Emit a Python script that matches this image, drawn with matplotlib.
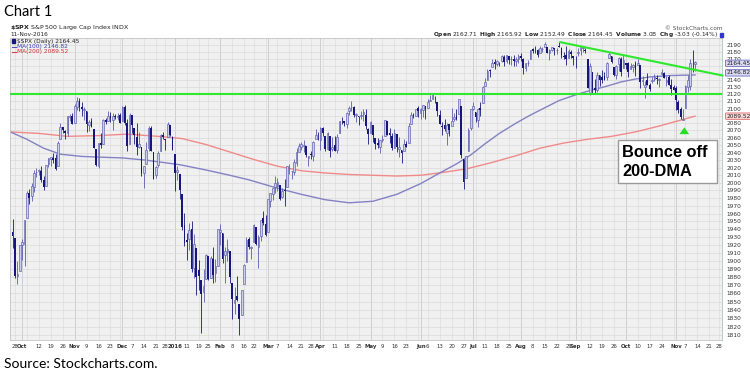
import matplotlib.pyplot as plt
import matplotlib.transforms as mtransforms
import numpy as np
import pandas as pd
from matplotlib.patches import Rectangle
from matplotlib.ticker import NullLocator

# $SPX daily candles, 25-Sep-2015 .. 11-Nov-2016 (one line per month)
opens = [
    1935.93, 1929.18, 1881.90, 1887.14,
    1919.65, 1921.77, 1954.33, 1986.63, 1982.34, 1994.01, 2013.73, 2015.65, 2015.00, 2003.66, 1996.47, 2024.37, 2031.73, 2033.13, 2033.47, 2021.88, 2058.19, 2075.08, 2068.75, 2066.48, 2088.35, 2090.00,
    2080.76, 2102.63, 2110.60, 2101.68, 2098.60, 2096.56, 2077.19, 2083.41, 2072.29, 2044.64, 2022.08, 2053.67, 2051.99, 2083.70, 2082.82, 2089.41, 2084.42, 2089.30, 2088.82, 2090.95,
    2082.93, 2101.71, 2080.71, 2051.24, 2090.42, 2073.39, 2061.17, 2047.93, 2047.27, 2013.37, 2025.55, 2046.50, 2073.76, 2040.81, 2010.27, 2023.15, 2042.20, 2063.52, 2057.77, 2060.54, 2077.34, 2060.59,
    2038.20, 2013.78, 2011.71, 1985.32, 1945.97, 1926.12, 1927.83, 1940.34, 1891.68, 1916.68, 1888.66, 1876.18, 1861.46, 1877.40, 1906.28, 1878.79, 1902.52, 1885.22, 1894.00,
    1936.94, 1935.26, 1907.07, 1911.67, 1913.07, 1873.25, 1848.46, 1857.10, 1847.00, 1833.40, 1871.44, 1898.80, 1927.57, 1916.74, 1924.44, 1942.38, 1917.56, 1931.87, 1954.95, 1947.13,
    1937.09, 1976.60, 1985.60, 1994.01, 1996.11, 1996.88, 1981.44, 1990.97, 1994.71, 2019.27, 2015.27, 2014.24, 2026.90, 2041.16, 2047.88, 2048.64, 2048.55, 2032.48, 2037.89, 2035.75, 2058.27, 2060.10,
    2056.62, 2073.19, 2062.50, 2045.56, 2063.01, 2045.54, 2050.23, 2043.72, 2065.92, 2082.89, 2083.10, 2078.83, 2096.05, 2101.52, 2102.09, 2091.49, 2089.37, 2089.84, 2092.57, 2090.93, 2071.82,
    2067.17, 2077.18, 2060.30, 2052.95, 2047.77, 2057.55, 2062.63, 2083.29, 2067.17, 2062.50, 2046.53, 2065.04, 2044.38, 2044.21, 2041.88, 2052.23, 2052.65, 2078.93, 2091.44, 2090.06, 2100.13,
    2093.94, 2097.71, 2104.07, 2100.83, 2110.18, 2112.71, 2115.65, 2109.57, 2091.75, 2076.65, 2077.60, 2066.36, 2078.20, 2075.58, 2085.19, 2089.75, 2092.80, 2103.81, 2031.45, 2006.67, 2042.69, 2073.17,
    2099.34, 2095.05, 2084.43, 2100.42, 2106.97, 2131.72, 2139.50, 2153.81, 2157.88, 2165.13, 2162.04, 2163.79, 2166.10, 2172.91, 2166.47, 2173.71, 2168.97, 2169.81, 2166.05, 2168.83,
    2173.15, 2169.94, 2156.81, 2163.51, 2168.79, 2183.76, 2182.24, 2182.81, 2177.97, 2183.74, 2186.08, 2186.24, 2177.84, 2181.90, 2184.24, 2181.58, 2187.81, 2185.09, 2173.29, 2175.10, 2170.19, 2179.45, 2173.56,
    2171.33, 2177.49, 2181.61, 2185.17, 2182.76, 2169.08, 2120.86, 2150.47, 2127.86, 2125.36, 2146.48, 2143.99, 2145.94, 2144.58, 2170.94, 2173.29, 2158.54, 2146.04, 2161.85, 2168.90, 2156.51,
    2164.33, 2163.37, 2155.15, 2158.22, 2164.19, 2160.39, 2161.35, 2137.67, 2130.26, 2139.68, 2132.95, 2138.31, 2140.81, 2142.51, 2139.43, 2148.50, 2149.72, 2136.97, 2144.06, 2132.23, 2129.78,
    2128.68, 2109.43, 2098.80, 2083.79, 2100.59, 2129.92, 2131.56, 2167.49, 2162.71,
]
highs = [
    1952.89, 1929.18, 1899.48, 1920.53,
    1927.21, 1951.36, 1989.17, 1991.62, 1999.31, 2016.50, 2020.13, 2018.66, 2022.34, 2009.56, 2024.15, 2033.54, 2034.45, 2039.12, 2037.97, 2055.20, 2079.74, 2075.14, 2070.37, 2090.35, 2092.52, 2094.32,
    2106.20, 2116.48, 2114.59, 2108.78, 2101.91, 2096.56, 2083.67, 2086.94, 2072.29, 2044.64, 2053.22, 2066.69, 2085.31, 2086.74, 2097.06, 2095.61, 2094.12, 2093.00, 2093.29, 2093.81,
    2103.37, 2104.27, 2085.00, 2093.84, 2090.42, 2073.85, 2080.33, 2067.65, 2047.27, 2022.92, 2053.87, 2076.72, 2076.37, 2040.81, 2022.90, 2042.74, 2064.73, 2067.36, 2057.77, 2081.56, 2077.34, 2062.54,
    2038.20, 2021.94, 2011.71, 1985.32, 1960.40, 1935.65, 1947.38, 1950.33, 1934.47, 1916.68, 1901.44, 1876.18, 1889.85, 1908.85, 1906.28, 1906.73, 1916.99, 1902.96, 1940.24,
    1947.20, 1935.26, 1918.01, 1927.35, 1913.07, 1873.25, 1868.25, 1881.60, 1847.00, 1864.78, 1895.77, 1930.68, 1930.00, 1918.78, 1946.70, 1942.38, 1932.08, 1951.83, 1962.96, 1958.27,
    1978.35, 1986.51, 1993.69, 2009.13, 2006.12, 1996.88, 1992.69, 2005.08, 2022.37, 2024.57, 2015.94, 2032.02, 2046.24, 2052.36, 2053.91, 2056.60, 2048.55, 2036.04, 2042.67, 2055.91, 2072.21, 2067.81,
    2075.07, 2074.02, 2062.50, 2067.33, 2063.01, 2060.63, 2062.93, 2065.05, 2083.18, 2087.84, 2083.22, 2094.66, 2104.05, 2111.05, 2103.78, 2094.32, 2089.37, 2096.87, 2099.89, 2099.30, 2073.85,
    2083.42, 2077.18, 2060.30, 2060.23, 2057.72, 2064.15, 2084.87, 2083.29, 2073.99, 2066.79, 2071.88, 2065.69, 2060.61, 2044.21, 2058.35, 2055.91, 2079.67, 2094.73, 2094.30, 2099.06, 2103.48,
    2100.97, 2105.26, 2104.07, 2113.36, 2119.22, 2120.55, 2117.64, 2109.57, 2098.12, 2081.30, 2085.65, 2079.62, 2078.20, 2100.66, 2093.66, 2099.71, 2113.32, 2103.81, 2031.45, 2036.09, 2073.13, 2098.94,
    2108.71, 2095.05, 2100.72, 2109.08, 2131.71, 2143.16, 2155.40, 2155.79, 2168.99, 2169.05, 2168.35, 2164.63, 2175.63, 2174.56, 2175.11, 2173.71, 2173.54, 2174.98, 2172.85, 2177.09,
    2178.29, 2170.20, 2163.79, 2168.19, 2182.87, 2185.44, 2187.66, 2183.41, 2188.45, 2186.28, 2193.81, 2186.24, 2183.08, 2187.03, 2185.00, 2185.15, 2193.42, 2186.66, 2179.00, 2187.94, 2183.48, 2182.27, 2173.79,
    2173.56, 2184.87, 2186.57, 2187.87, 2184.94, 2169.08, 2163.30, 2150.47, 2141.33, 2151.31, 2146.48, 2153.61, 2150.80, 2165.11, 2179.99, 2173.75, 2158.54, 2161.13, 2172.40, 2172.67, 2175.30,
    2164.41, 2165.46, 2163.95, 2162.93, 2165.86, 2169.60, 2161.56, 2145.36, 2138.19, 2149.19, 2135.61, 2144.38, 2148.44, 2147.18, 2142.63, 2154.79, 2151.44, 2145.73, 2147.13, 2140.72, 2133.25,
    2131.45, 2111.76, 2102.56, 2099.07, 2132.00, 2146.87, 2170.10, 2182.30, 2165.92,
]
lows = [
    1916.83, 1879.21, 1871.91, 1887.14,
    1900.70, 1893.70, 1954.33, 1971.99, 1976.44, 1987.53, 2007.61, 2010.55, 2001.78, 1990.73, 1996.47, 2020.46, 2022.31, 2026.61, 2017.22, 2021.88, 2058.19, 2066.53, 2058.84, 2063.11, 2082.63, 2079.34,
    2080.76, 2097.51, 2096.98, 2090.41, 2083.74, 2068.24, 2069.91, 2074.85, 2045.66, 2022.02, 2019.94, 2045.90, 2051.99, 2078.76, 2082.82, 2081.39, 2070.29, 2086.30, 2084.13, 2080.41,
    2082.93, 2077.11, 2042.35, 2051.24, 2066.78, 2052.32, 2036.53, 2045.67, 2008.80, 1993.26, 2025.55, 2042.43, 2041.66, 2005.33, 2005.93, 2020.49, 2042.20, 2058.73, 2044.20, 2060.54, 2061.97, 2043.62,
    1989.68, 2004.17, 1979.05, 1938.83, 1918.46, 1901.10, 1914.35, 1886.41, 1878.93, 1857.83, 1864.60, 1812.29, 1848.98, 1877.40, 1875.97, 1878.79, 1872.70, 1873.65, 1894.00,
    1920.30, 1897.29, 1872.23, 1900.52, 1872.65, 1828.46, 1834.94, 1850.32, 1810.10, 1833.40, 1871.44, 1898.80, 1915.09, 1902.17, 1924.44, 1919.44, 1891.00, 1925.41, 1945.78, 1931.81,
    1937.09, 1968.80, 1977.37, 1986.77, 1989.38, 1977.43, 1979.84, 1969.25, 1994.71, 2012.05, 2005.23, 2010.04, 2022.16, 2041.16, 2043.14, 2040.57, 2034.86, 2022.49, 2031.96, 2028.31, 2058.27, 2056.95,
    2043.98, 2062.57, 2042.56, 2043.09, 2033.80, 2041.69, 2041.88, 2039.74, 2065.92, 2078.13, 2076.31, 2073.65, 2091.68, 2096.32, 2088.52, 2081.20, 2077.52, 2085.80, 2082.31, 2071.62, 2052.28,
    2066.11, 2054.89, 2045.55, 2045.77, 2039.45, 2054.31, 2062.63, 2064.46, 2053.13, 2043.13, 2046.53, 2040.82, 2034.49, 2025.91, 2041.88, 2047.68, 2052.65, 2078.93, 2087.08, 2090.06, 2088.66,
    2085.10, 2088.59, 2085.36, 2100.83, 2110.18, 2112.71, 2107.73, 2089.96, 2078.46, 2064.10, 2069.80, 2050.37, 2062.84, 2075.58, 2083.02, 2084.36, 2092.80, 2032.57, 1991.68, 2006.67, 2042.69, 2070.00,
    2097.90, 2080.86, 2074.02, 2089.39, 2106.97, 2131.72, 2139.50, 2143.71, 2157.88, 2155.79, 2159.63, 2159.01, 2164.89, 2159.75, 2163.24, 2161.95, 2160.18, 2159.07, 2159.74, 2163.49,
    2166.21, 2147.58, 2152.02, 2159.07, 2168.79, 2177.85, 2178.61, 2172.00, 2177.97, 2179.42, 2186.08, 2178.14, 2168.50, 2180.46, 2175.13, 2175.96, 2186.80, 2171.25, 2169.74, 2160.39, 2170.19, 2170.41, 2161.35,
    2157.09, 2173.59, 2175.10, 2179.07, 2177.49, 2127.81, 2119.12, 2120.27, 2119.90, 2122.36, 2131.20, 2135.91, 2139.17, 2139.57, 2170.94, 2163.97, 2145.04, 2141.55, 2151.79, 2145.20, 2156.51,
    2154.77, 2144.01, 2155.15, 2150.28, 2144.85, 2160.39, 2128.84, 2132.77, 2114.72, 2132.98, 2124.43, 2135.49, 2138.15, 2133.44, 2130.09, 2146.91, 2141.93, 2131.59, 2132.52, 2119.36, 2125.53,
    2097.85, 2094.00, 2085.23, 2083.79, 2100.59, 2123.56, 2125.35, 2151.17, 2152.49,
]
closes = [
    1931.34, 1881.77, 1884.09, 1920.03,
    1923.82, 1951.36, 1987.05, 1979.92, 1995.83, 2013.43, 2014.89, 2017.46, 2003.69, 1994.24, 2023.86, 2033.11, 2033.66, 2030.77, 2018.94, 2052.51, 2075.15, 2071.18, 2065.89, 2090.35, 2089.41, 2079.36,
    2104.05, 2109.79, 2102.31, 2099.93, 2099.20, 2078.58, 2081.72, 2075.00, 2045.97, 2023.04, 2053.19, 2050.44, 2083.58, 2081.24, 2089.17, 2086.59, 2089.14, 2088.87, 2090.11, 2080.41,
    2102.63, 2079.51, 2049.62, 2091.69, 2077.07, 2063.59, 2047.62, 2052.23, 2012.37, 2021.94, 2043.41, 2073.07, 2041.89, 2005.55, 2021.15, 2038.97, 2064.29, 2060.99, 2056.50, 2078.36, 2063.36, 2043.94,
    2012.66, 2016.71, 1990.26, 1943.09, 1922.03, 1923.67, 1938.68, 1890.28, 1921.84, 1880.33, 1881.33, 1859.33, 1868.99, 1906.90, 1877.08, 1903.63, 1882.95, 1893.36, 1940.24,
    1939.38, 1903.03, 1912.53, 1915.45, 1880.05, 1853.44, 1852.21, 1851.86, 1829.08, 1864.78, 1895.58, 1926.82, 1917.83, 1917.78, 1945.50, 1921.27, 1929.80, 1951.70, 1948.05, 1932.23,
    1978.35, 1986.45, 1993.40, 1999.99, 2001.76, 1979.26, 1989.26, 1989.57, 2022.19, 2019.64, 2015.93, 2027.22, 2040.59, 2049.58, 2051.60, 2049.80, 2036.71, 2035.94, 2037.05, 2055.01, 2063.95, 2059.74,
    2072.78, 2066.13, 2045.17, 2066.66, 2041.91, 2047.60, 2041.99, 2061.72, 2082.42, 2082.78, 2080.73, 2094.34, 2100.80, 2102.40, 2091.48, 2091.58, 2087.79, 2091.70, 2095.15, 2075.81, 2065.30,
    2081.43, 2063.37, 2051.12, 2050.63, 2057.14, 2058.69, 2084.39, 2064.46, 2064.11, 2046.61, 2066.66, 2047.21, 2047.63, 2040.04, 2052.32, 2048.04, 2076.06, 2090.54, 2090.10, 2099.06, 2096.95,
    2099.33, 2105.26, 2099.13, 2109.41, 2112.13, 2119.12, 2115.48, 2096.07, 2079.06, 2075.32, 2071.50, 2077.99, 2071.22, 2083.25, 2088.90, 2085.45, 2113.32, 2037.41, 2000.54, 2036.09, 2070.77, 2098.86,
    2102.95, 2088.55, 2099.73, 2097.90, 2129.90, 2137.16, 2152.14, 2152.43, 2163.75, 2161.74, 2166.89, 2163.78, 2173.02, 2165.17, 2175.03, 2168.48, 2169.18, 2166.58, 2170.06, 2173.60,
    2170.84, 2157.03, 2163.79, 2164.25, 2182.87, 2180.89, 2181.74, 2175.49, 2185.79, 2184.05, 2190.15, 2178.15, 2182.22, 2187.02, 2183.87, 2182.64, 2186.90, 2175.44, 2172.47, 2169.04, 2180.38, 2176.12, 2170.95,
    2170.86, 2179.98, 2186.48, 2186.16, 2181.30, 2127.81, 2159.04, 2127.02, 2125.77, 2147.26, 2139.16, 2139.12, 2139.76, 2163.12, 2177.18, 2164.69, 2146.10, 2159.93, 2171.37, 2151.13, 2168.27,
    2161.20, 2150.49, 2159.73, 2160.77, 2153.74, 2163.66, 2136.73, 2139.18, 2132.55, 2132.98, 2126.50, 2139.60, 2144.29, 2141.34, 2141.16, 2151.33, 2143.16, 2139.43, 2133.04, 2126.41, 2126.15,
    2111.72, 2097.94, 2088.66, 2085.18, 2131.52, 2139.56, 2163.26, 2167.48, 2164.45,
]
holidays = ['2015-11-26', '2015-12-25', '2016-01-01', '2016-01-18', '2016-02-15',
            '2016-03-25', '2016-05-30', '2016-07-04', '2016-09-05', '2016-11-24']

# moving averages (trading-day index, value)
ma100_pos = [-1, 6, 13, 20, 29, 37, 46, 56, 70, 81, 91, 99, 111, 121, 131, 141, 151, 161,
             171, 179, 186, 192, 198, 204, 211, 217, 223, 229, 236, 242, 249, 255, 261, 267, 276, 286]
ma100_val = [2068, 2058, 2046, 2038, 2035, 2034, 2033, 2030, 2024, 2017, 2010, 2004, 1993, 1985,
             1978, 1974, 1976, 1985, 1999, 2013, 2025, 2037, 2052, 2066, 2080, 2091, 2101, 2111,
             2119, 2125, 2131, 2137, 2141, 2144, 2146, 2146.82]
ma200_pos = [-1, 11, 23, 36, 48, 61, 71, 81, 91, 101, 111, 121, 131, 141, 151, 161, 171, 181,
             191, 201, 211, 221, 231, 241, 251, 261, 271, 281, 286]
ma200_val = [2068, 2066, 2062, 2063, 2065, 2062, 2059, 2051, 2041, 2031, 2022, 2016, 2013, 2011,
             2010, 2009, 2010, 2014, 2019, 2027, 2036, 2046, 2053, 2058, 2062, 2068, 2076, 2085, 2089.52]

# drawn support / resistance lines
support_level = 2120
trend_pos = [229.5, 297.5]
trend_val = [2193.5, 2146.0]
# last values shown on the price scale: value, fill, edge, nudge (pt)
last_values = [(2164.45, '#d9d9f2', '#6b6bc0', -0.6), (2146.82, '#d9d9f2', '#6b6bc0', 1.5),
               (2089.52, '#fadada', '#e06a6a', 0)]
hidden_labels = [2090, 2150, 2160]

W, H = 750, 376
fig = plt.figure(figsize=(W / 100, H / 100), dpi=100)
fig.patch.set_facecolor('white')
ax = fig.add_axes([10 / W, 36 / H, 712 / W, 302 / H])
ax.set_facecolor('#f0f0f0')

days = pd.bdate_range('2015-09-25', '2016-11-28')
days = days[~days.isin(pd.to_datetime(holidays))]
n = len(closes)

ax.set_yscale('log')
ax.set_ylim(1804, 2199.5)
ax.set_xlim(-1.1, 297.3)

yt = np.arange(1810, 2191, 10)
ax.yaxis.set_minor_locator(NullLocator())
ax.set_yticks(yt)
ax.set_yticklabels(['' if v in hidden_labels else str(v) for v in yt])
ax.yaxis.tick_right()
ax.tick_params(axis='y', length=0, labelsize=4.2, pad=3, labelcolor='#333333')
ax.grid(axis='y', color='#dadada', lw=0.5)

# x labels: month names at month starts, day numbers at week starts
ticks, labels, bold = [], [], []
month_starts = [i for i in range(1, len(days)) if days[i].month != days[i - 1].month]
for i in range(1, len(days)):
    d = days[i]
    if i in month_starts:
        ticks.append(i); labels.append('2016' if d.month == 1 else d.strftime('%b')); bold.append(True)
        ax.axvline(i, color='#c9c9c9', lw=0.6, zorder=1)
    elif d.weekday() < days[i - 1].weekday():
        ax.axvline(i, color='#dcdcdc', lw=0.5, zorder=1)
        if min(abs(i - m) for m in month_starts) > 2:
            ticks.append(i); labels.append(str(d.day)); bold.append(False)
ax.set_xticks(ticks)
ax.set_xticklabels(labels)
nudge = mtransforms.ScaledTranslation(2 / 100, 0, fig.dpi_scale_trans)
for t, b in zip(ax.get_xticklabels(), bold):
    if b:
        t.set_fontweight('bold')
        t.set_transform(t.get_transform() + nudge)
ax.tick_params(axis='x', length=0, labelsize=3.9, pad=3, labelcolor='#333333')
for s in ax.spines.values():
    s.set_color('#c4c4c4'); s.set_linewidth(0.6)
ax.spines['right'].set_color('#a9c6bf')

# moving averages and drawn lines
ax.plot(ma200_pos, ma200_val, color='#f08a8a', lw=1.0, zorder=2)
ax.plot(ma100_pos, ma100_val, color='#8282c4', lw=1.0, zorder=2)
ax.axhline(support_level, color='#2ee82e', lw=1.5, zorder=5)
ax.plot(trend_pos, trend_val, color='#2ee82e', lw=1.5, zorder=5, clip_on=False)

# candles
x = np.arange(n)
o, h, l, c = (np.array(v) for v in (opens, highs, lows, closes))
up = c >= o
ax.vlines(x[up], l[up], h[up], color='#5c5cae', lw=0.6, zorder=3)
ax.vlines(x[~up], l[~up], h[~up], color='#16167c', lw=0.6, zorder=3)
body = np.maximum(np.abs(c - o), 0.6)
bottom = np.minimum(o, c)
ax.bar(x[up], body[up], bottom=bottom[up], width=0.72, facecolor='#cdcdee',
       edgecolor='#5c5cae', lw=0.45, zorder=4)
ax.bar(x[~up], body[~up], bottom=bottom[~up], width=0.72, color='#16167c', lw=0, zorder=4)

# last-value boxes on the price scale
for v, fc, ec, dy in last_values:
    ax.annotate(f'{v:.2f}', xy=(1, v), xycoords=('axes fraction', 'data'), xytext=(3, dy),
                textcoords='offset points', va='center', ha='left', fontsize=4.2, color='#222222',
                bbox=dict(boxstyle='round,pad=0.12', fc=fc, ec=ec, lw=0.6), zorder=10,
                annotation_clip=False)

# annotation box and arrow
fig.add_artist(Rectangle((618 / W, 1 - 183 / H), 99 / W, 43 / H, transform=fig.transFigure,
                         facecolor='white', edgecolor='#9a9a9a', lw=1.0, zorder=6))
fig.text(622 / W, 1 - 152.5 / H, 'Bounce off', fontsize=11.8, fontweight='bold',
         family='Liberation Sans', va='center', zorder=7)
fig.text(622 / W, 1 - 172 / H, '200-DMA', fontsize=11.8, fontweight='bold',
         family='Liberation Sans', va='center', zorder=7)
ax.annotate('', xy=(281.5, 2078), xytext=(281.5, 2065),
            arrowprops=dict(arrowstyle='simple,head_width=1.0,head_length=0.7,tail_width=0.45',
                            color='#22e022', lw=0, mutation_scale=7), zorder=7)

# header and legend texts
fig.text(4 / W, 1 - 12 / H, 'Chart 1', fontsize=10.5, family='Lato', va='center')
fig.text(4 / W, 1 - 364 / H, 'Source: Stockcharts.com.', fontsize=10, family='Lato', va='center')
fig.text(10 / W, 1 - 28 / H, r'$\mathbf{\$SPX}$ S&P 500 Large Cap Index INDX', fontsize=4.5,
         va='center', color='#222222')
fig.text(10 / W, 1 - 34 / H, '11-Nov-2016', fontsize=4.2, va='center', color='#222222')
fig.text(723 / W, 1 - 28.5 / H, '\u00a9 StockCharts.com', fontsize=4.2, va='center', ha='right',
         color='#555555')
fig.text(718 / W, 1 - 34.5 / H,
         r'$\mathbf{Open}$ 2162.71  $\mathbf{High}$ 2165.92  $\mathbf{Low}$ 2152.49  '
         r'$\mathbf{Close}$ 2164.45  $\mathbf{Volume}$ 3.0B  $\mathbf{Chg}$ -3.03 (-0.14%)',
         fontsize=4.2, va='center', ha='right', color='#222222')
fig.add_artist(Rectangle((719.5 / W, 1 - 36.5 / H), 3.5 / W, 3.5 / H, transform=fig.transFigure,
                         color='#3434c8'))

fig.add_artist(Rectangle((11.5 / W, 1 - 43 / H), 3.5 / W, 4 / H, transform=fig.transFigure,
                         color='#16167c'))
fig.text(17 / W, 1 - 41 / H, '$SPX (Daily) 2164.45', fontsize=4.2, va='center', color='#222222')
fig.add_artist(plt.Line2D([11.5 / W, 16 / W], [1 - 46.5 / H] * 2, color='#5050b8', lw=0.8))
fig.text(17 / W, 1 - 46.5 / H, 'MA(100) 2146.82', fontsize=4.2, va='center', color='#4040b0')
fig.add_artist(plt.Line2D([11.5 / W, 16 / W], [1 - 52 / H] * 2, color='#e04040', lw=0.8))
fig.text(17 / W, 1 - 52 / H, 'MA(200) 2089.52', fontsize=4.2, va='center', color='#d03030')

fig.savefig('out.png', dpi=100)
